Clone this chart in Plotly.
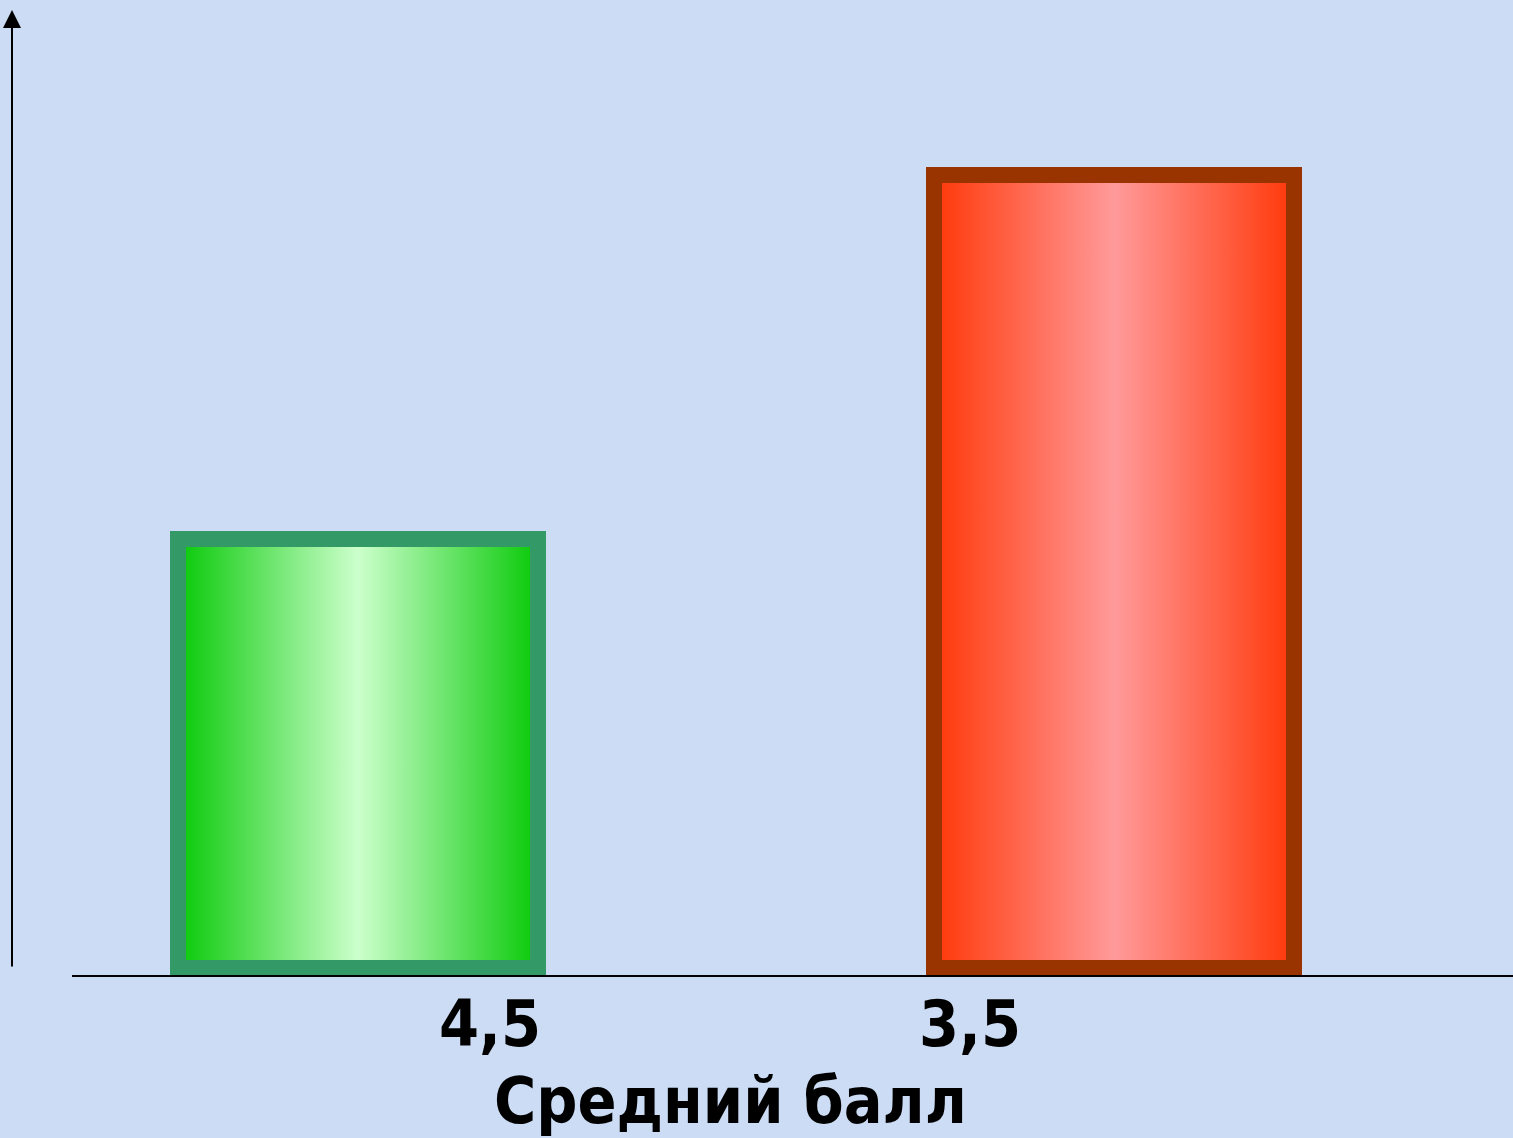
import plotly.graph_objects as go

# Two groups compared by average grade
categories = ["4,5", "3,5"]
bar_values = [2.75, 5.0]
axis_title = "Средний балл"

border_colors = ["#339966", "#993300"]
edge_colors = ["#11cc11", "#ff3c0f"]
center_colors = ["#ccffcc", "#ff9a9a"]

# Layout geometry (pixels)
W, H = 1513, 1138
ML, MR, MT, MB = 12, 0, 10, 162
plot_w = W - ML - MR
plot_h = H - MT - MB
unit_px = 756.0          # pixels between the two category centres
first_px = 346.0         # first category centre from the left edge of the plot area
x_range = [-first_px / unit_px, (plot_w - first_px) / unit_px]
y_range = [0, 5.97]
y_px = plot_h / (y_range[1] - y_range[0])

bar_width = 376 / unit_px
border_px = 16
ix = border_px / unit_px
iy = border_px / y_px

xs = list(range(len(categories)))
label_font = "DejaVu Sans Condensed, DejaVu Sans, sans-serif"

fig = go.Figure()

# outer bar = border colour
fig.add_trace(go.Bar(
    x=xs, y=bar_values, width=bar_width,
    marker=dict(color=border_colors, line=dict(width=0)),
    hoverinfo="skip", showlegend=False,
))

# inner gradient panel of each bar
for xc, v, ec, cc in zip(xs, bar_values, edge_colors, center_colors):
    x0 = xc - bar_width / 2 + ix
    x1 = xc + bar_width / 2 - ix
    y0 = iy
    y1 = v - iy
    fig.add_trace(go.Scatter(
        x=[x0, x1, x1, x0, x0], y=[y0, y0, y1, y1, y0],
        mode="lines", line=dict(width=0),
        fill="toself",
        fillgradient=dict(type="horizontal",
                          colorscale=[[0, ec], [0.5, cc], [1, ec]]),
        hoverinfo="skip", showlegend=False,
    ))

# horizontal axis line
fig.add_shape(type="line", xref="paper", yref="paper",
              x0=60 / plot_w, x1=1, y0=0, y1=0,
              line=dict(color="black", width=2))

# vertical axis with arrow head
fig.add_annotation(xref="paper", yref="paper", x=0, y=1,
                   ax=0, ay=plot_h - 8, axref="pixel", ayref="pixel",
                   text="", showarrow=True, arrowhead=2, arrowsize=1.8,
                   arrowwidth=2, arrowcolor="black")

# category labels
label_shift = [132, -144]
for xc, lab, sh in zip(xs, categories, label_shift):
    fig.add_annotation(xref="x", yref="paper", x=xc, y=0, xshift=sh,
                       yanchor="top", yshift=-9, showarrow=False,
                       text=f"<b>{lab}</b>",
                       font=dict(family=label_font, size=64, color="black"))

fig.add_annotation(xref="paper", yref="paper", x=(730 - ML) / plot_w, y=0,
                   yanchor="top", yshift=-86, showarrow=False,
                   text=f"<b>{axis_title}</b>",
                   font=dict(family=label_font, size=64, color="black"))

fig.update_layout(
    width=W, height=H,
    margin=dict(l=ML, r=MR, t=MT, b=MB),
    paper_bgcolor="#cbdcf4", plot_bgcolor="rgba(0,0,0,0)",
    xaxis=dict(range=x_range, visible=False, fixedrange=True),
    yaxis=dict(range=y_range, visible=False, fixedrange=True),
    bargap=0,
)

fig.write_html("out.html", config={"displayModeBar": False})
